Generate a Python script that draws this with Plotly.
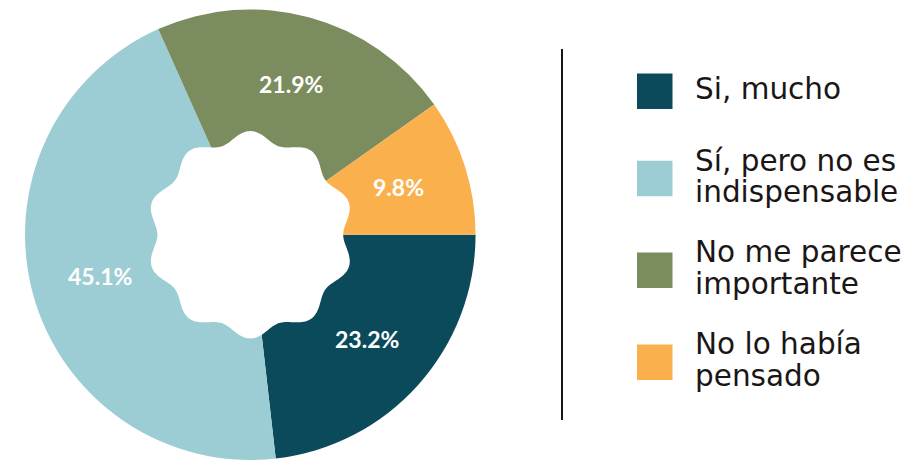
import math
import plotly.graph_objects as go

# Survey answers and their shares (%)
labels = ["Si, mucho", "Sí, pero no es<br>indispensable",
          "No me parece<br>importante", "No lo había<br>pensado"]
values = [23.2, 45.1, 21.9, 9.8]
colors = ["#0b4a5b", "#9dcdd4", "#7b8c5e", "#fbb04e"]

W, H = 918, 460
CX, CY, R = 250.3, 234.75, 225.3      # pie centre / radius in pixels
TEXT_DARK = "#1b1616"
LEGEND_FONT = "DejaVu Sans"
LABEL_FONT = "Lato"


def px(x):
    return x / W


def py(y):
    return 1 - y / H


fig = go.Figure()

fig.add_trace(go.Pie(
    values=values,
    labels=[l.replace("<br>", " ") for l in labels],
    marker=dict(colors=colors, line=dict(width=0)),
    sort=False,
    direction="clockwise",
    rotation=90,
    textinfo="none",
    hoverinfo="label+value",
    showlegend=False,
    domain=dict(x=[px(CX - R), px(CX + R)], y=[max(0, py(CY + R)), py(CY - R)]),
))

shapes = []
annotations = []

# Scalloped white centre (10 lobes)
n_pts = 400
pts = []
for i in range(n_pts):
    t = 2 * math.pi * i / n_pts
    r = 98.3 + 5.4 * math.cos(10 * (t - math.pi / 2))
    x = CX + r * math.cos(t)
    y = CY - r * math.sin(t)
    pts.append(f"{px(x):.5f},{py(y):.5f}")
shapes.append(dict(
    type="path", xref="paper", yref="paper",
    path="M" + " L".join(pts) + " Z",
    fillcolor="white", line=dict(width=0), layer="above",
))

# Percentage labels at each slice's mid-angle
total = sum(values)
cum = 0.0
for v in values:
    mid = (cum + v / 2) / total * 2 * math.pi   # clockwise from 3 o'clock
    cum += v
    lr = 156
    x = CX + lr * math.cos(mid)
    y = CY + lr * math.sin(mid)
    annotations.append(dict(
        x=px(x), y=py(y), xref="paper", yref="paper",
        text=f"{v:.1f}%", showarrow=False,
        xanchor="center", yanchor="middle",
        font=dict(family=LABEL_FONT, size=23, color="white", weight="bold"),
    ))

# Separator line
shapes.append(dict(
    type="line", xref="paper", yref="paper",
    x0=px(562), x1=px(562), y0=py(49), y1=py(420),
    line=dict(color=TEXT_DARK, width=2),
))

# Legend: colour squares with one- or two-line labels
sq_centres = [91.3, 178.4, 270.2, 362.2]
sq = 35.5
line_gap = 31.5
fs = 29.5
for lab, col, yc in zip(labels, colors, sq_centres):
    shapes.append(dict(
        type="rect", xref="paper", yref="paper",
        x0=px(637), x1=px(637 + sq), y0=py(yc - sq / 2), y1=py(yc + sq / 2),
        fillcolor=col, line=dict(width=0),
    ))
    lines = lab.split("<br>")
    n = len(lines)
    for k, t in enumerate(lines):
        ymid = yc + (k - (n - 1) / 2) * line_gap - 2
        annotations.append(dict(
            x=px(693), y=py(ymid), xref="paper", yref="paper",
            text=t, showarrow=False, xanchor="left", yanchor="middle",
            font=dict(family=LEGEND_FONT, size=fs, color=TEXT_DARK),
        ))

fig.update_layout(
    width=W, height=H,
    margin=dict(l=0, r=0, t=0, b=0),
    paper_bgcolor="white", plot_bgcolor="white",
    shapes=shapes, annotations=annotations,
    xaxis=dict(visible=False), yaxis=dict(visible=False),
)

fig.write_html("out.html")
